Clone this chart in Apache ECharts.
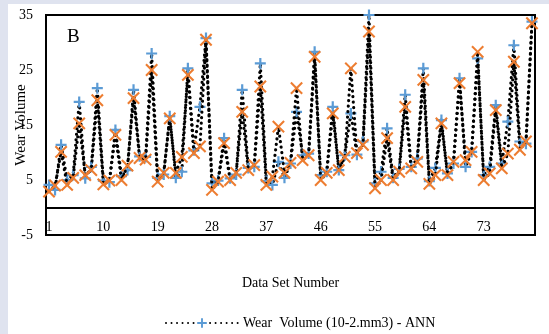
<!DOCTYPE html>
<html>
<head>
<meta charset="utf-8">
<script src="https://cdn.jsdelivr.net/npm/echarts@6/dist/echarts.min.js"></script>
<style>
html,body{margin:0;padding:0;background:#dfe3ef;}
#chart{width:549px;height:334px;}
</style>
</head>
<body>
<div id="chart"></div>
<script>
// Data set numbers 1..81
var categories = [];
for (var k = 1; k <= 81; k++) categories.push(String(k));

// Wear Volume (10-2.mm3) - ANN (blue +)
var annValues = [
  4.1, 3.2, 11.4, 5.0, 5.9, 19.2, 5.3, 7.4, 21.7,
  4.9, 4.6, 14.1, 5.7, 6.8, 21.4, 9.3, 9.2, 28.0,
  5.4, 6.0, 16.6, 5.4, 6.5, 25.3, 10.4, 18.3, 30.8,
  4.4, 4.9, 12.6, 5.3, 6.0, 21.4, 7.2, 7.4, 26.2,
  4.8, 4.1, 8.3, 5.4, 8.0, 17.4, 9.5, 9.8, 28.3,
  5.9, 6.5, 18.3, 6.8, 9.5, 17.1, 9.6, 12.0, 35.0,
  4.4, 6.5, 14.4, 5.4, 7.0, 20.5, 7.4, 8.9, 25.3,
  4.8, 7.2, 15.9, 6.2, 8.0, 23.5, 7.4, 10.1, 27.1,
  5.9, 7.4, 18.6, 8.0, 15.6, 29.5, 12.0, 11.6, 33.8
];

// Wear Volume (10-2.mm3) - Experimental (orange x)
var expValues = [
  2.9, 4.0, 10.1, 4.1, 5.4, 15.3, 5.9, 6.8, 19.5,
  4.2, 4.9, 13.2, 5.0, 7.6, 19.9, 9.0, 8.7, 25.0,
  4.7, 6.3, 16.2, 6.3, 9.2, 24.1, 9.9, 11.1, 30.5,
  3.2, 4.7, 11.7, 5.0, 6.3, 17.4, 6.8, 7.7, 22.0,
  4.1, 5.6, 14.7, 6.3, 8.1, 21.7, 8.6, 9.5, 27.4,
  5.0, 6.3, 17.1, 6.8, 9.2, 25.3, 9.9, 11.4, 32.0,
  3.5, 5.0, 12.6, 5.0, 6.5, 18.3, 7.1, 8.3, 23.2,
  4.3, 5.9, 15.3, 5.9, 8.3, 22.6, 8.6, 10.1, 28.3,
  5.0, 6.2, 17.7, 7.1, 9.8, 26.5, 10.5, 12.0, 33.5
];

var yTicks = [-5, 5, 15, 25, 35];
var annName = 'Wear  Volume (10-2.mm3) - ANN';
var expName = 'Wear  Volume (10-2.mm3) - Experimental';

var PLUS = 'path://M8,0H12V8H20V12H12V20H8V12H0V8H8Z';
var CROSS = 'path://M8.7,0H11.3V8.7H20V11.3H11.3V20H8.7V11.3H0V8.7H8.7Z';
var FONT = '"Liberation Serif", "Times New Roman", serif';

var chart = echarts.init(document.getElementById('chart'), null, {renderer: 'canvas'});
chart.setOption({
  backgroundColor: '#dfe3ef',
  animation: false,
  textStyle: {fontFamily: FONT, color: '#000'},
  graphic: [
    {type: 'rect', z: -100, silent: true, shape: {x: 8, y: 4, width: 560, height: 340}, style: {fill: '#ffffff'}},
    {type: 'text', left: 67, top: 28, style: {text: 'B', font: '19px ' + FONT, fill: '#000'}}
  ],
  grid: {left: 46, top: 15, width: 489, height: 220, show: true, borderColor: '#000', borderWidth: 2,
         backgroundColor: 'transparent', containLabel: false, outerBoundsMode: 'none'},
  legend: {
    data: [annName],
    left: 160, top: 311,
    itemWidth: 72, itemHeight: 12, itemGap: 10,
    textStyle: {fontFamily: FONT, fontSize: 14, color: '#000'}
  },
  xAxis: {
    type: 'category',
    data: categories,
    boundaryGap: true,
    name: 'Data Set Number',
    nameLocation: 'middle',
    nameGap: 41,
    nameMoveOverlap: false,
    nameTextStyle: {fontFamily: FONT, fontSize: 14, color: '#000'},
    axisLine: {onZero: true, lineStyle: {color: '#000', width: 2}},
    axisTick: {show: false},
    axisLabel: {interval: 8, margin: -15, fontFamily: FONT, fontSize: 14, color: '#000'},
    splitLine: {show: false}
  },
  yAxis: {
    type: 'value',
    min: yTicks[0], max: yTicks[yTicks.length - 1], interval: 10,
    name: 'Wear Volume',
    nameLocation: 'middle',
    nameGap: 17,
    nameMoveOverlap: false,
    nameTextStyle: {fontFamily: FONT, fontSize: 15, color: '#000'},
    axisLine: {show: true, lineStyle: {color: '#000', width: 2}},
    axisTick: {show: false},
    axisLabel: {margin: 13, fontFamily: FONT, fontSize: 14, color: '#000'},
    splitLine: {show: false}
  },
  series: [
    {
      name: annName, type: 'line', data: annValues,
      showAllSymbol: true,
      symbol: PLUS, symbolSize: 11,
      itemStyle: {color: '#5b9bd5'},
      lineStyle: {color: '#000', width: 3.2, type: [0.01, 5.5], cap: 'round'},
      z: 3
    },
    {
      name: expName, type: 'line', data: expValues,
      showAllSymbol: true,
      symbol: CROSS, symbolSize: 16, symbolRotate: 45,
      itemStyle: {color: '#ed7d31'},
      lineStyle: {color: '#000', width: 3.2, type: [0.01, 5.5], cap: 'round'},
      z: 4
    }
  ]
});
</script>
</body>
</html>
